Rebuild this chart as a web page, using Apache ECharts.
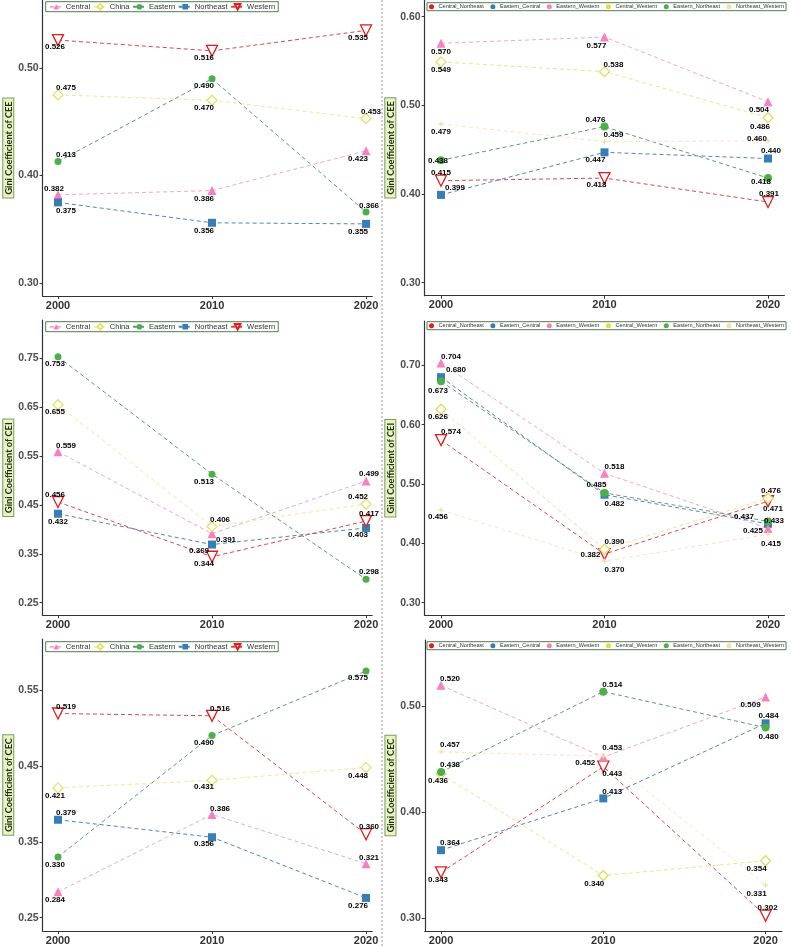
<!DOCTYPE html>
<html><head><meta charset="utf-8">
<script src="https://cdn.jsdelivr.net/npm/echarts@6/dist/echarts.min.js"></script>
<style>html,body{margin:0;padding:0;background:#fff}#c{width:791px;height:946px}</style>
</head><body><div id="c"></div>
<script>
// ---------------- data ----------------
const years = [2000, 2010, 2020];
const regionNames = ['Central', 'China', 'Eastern', 'Northeast', 'Western'];
const pairNames = ['Central_Northeast', 'Eastern_Central', 'Eastern_Western', 'Central_Western', 'Eastern_Northeast', 'Northeast_Western'];

// CEE
const ceeRegionValues = [
  [0.382, 0.386, 0.423], [0.475, 0.470, 0.453], [0.413, 0.490, 0.366], [0.375, 0.356, 0.355], [0.526, 0.516, 0.535]
];
const ceePairValues = [
  [0.415, 0.418, 0.391], [0.399, 0.447, 0.440], [0.570, 0.577, 0.504], [0.549, 0.538, 0.486], [0.438, 0.476, 0.418], [0.479, 0.459, 0.460]
];
// CEI
const ceiRegionValues = [
  [0.559, 0.391, 0.499], [0.655, 0.406, 0.452], [0.753, 0.513, 0.298], [0.432, 0.369, 0.403], [0.456, 0.344, 0.417]
];
const ceiPairValues = [
  [0.574, 0.382, 0.471], [0.680, 0.482, 0.433], [0.704, 0.518, 0.425], [0.626, 0.390, 0.476], [0.673, 0.485, 0.437], [0.456, 0.370, 0.415]
];
// CEC
const cecRegionValues = [
  [0.284, 0.386, 0.321], [0.421, 0.431, 0.448], [0.330, 0.490, 0.575], [0.379, 0.356, 0.276], [0.519, 0.516, 0.360]
];
const cecPairValues = [
  [0.343, 0.443, 0.302], [0.364, 0.413, 0.484], [0.520, 0.452, 0.509], [0.436, 0.340, 0.354], [0.438, 0.514, 0.480], [0.457, 0.453, 0.331]
];

// tick labels
const xTicks = [2000, 2010, 2020];
const ceeRegionTicks = [0.30, 0.40, 0.50];
const ceePairTicks = [0.30, 0.40, 0.50, 0.60];
const ceiRegionTicks = [0.25, 0.35, 0.45, 0.55, 0.65, 0.75];
const ceiPairTicks = [0.30, 0.40, 0.50, 0.60, 0.70];
const cecRegionTicks = [0.25, 0.35, 0.45, 0.55];
const cecPairTicks = [0.30, 0.40, 0.50];

// ---------------- label placement (layout, px offsets) ----------------
const ceeRegionLabelPos = [
  [[-4,-6],[-8,8],[-8,8]], [[8,-7],[-8,8],[5,-7]], [[8,-7],[-8,7],[3,-6]], [[8,8],[-8,8],[-8,8]], [[-3,7],[-8,7],[-8,7]]
];
const ceePairLabelPos = [
  [[0,-8],[-8,7],[1,-8]], [[14,-7],[-9,7],[3,-8]], [[0,9],[-8,9],[-9,8]], [[0,8],[9,-7],[-8,9]], [[-3,0],[-9,-7],[-7,4]], [[0,8],[9,-7],[-11,-2]]
];
const ceiRegionLabelPos = [
  [[8,-6],[14,6],[3,-7]], [[-3,7],[8,-7],[-8,-7]], [[-3,7],[-8,8],[3,-7]], [[0,8],[-13,6],[-8,7]], [[-3,-7],[-8,7],[3,-7]]
];
const ceiPairLabelPos = [
  [[10,-8],[-14,1],[5,8]], [[15,-7],[10,9],[6,-3]], [[10,-6],[10,-7],[-15,2]], [[-3,8],[10,-7],[3,-7]], [[-3,9],[-8,-8],[-24,-5]], [[-3,7],[10,9],[3,9]]
];
const cecRegionLabelPos = [
  [[-3,8],[8,-6],[3,-6]], [[-3,8],[-8,7],[-8,8]], [[-3,8],[-8,7],[-8,7]], [[8,-7],[-8,7],[-8,8]], [[8,-7],[8,-7],[3,-7]]
];
const cecPairLabelPos = [
  [[-3,7],[9,7],[2,-8]], [[9,-7],[9,-7],[3,-8]], [[9,-7],[-18,6],[-15,8]], [[-3,7],[-9,8],[-9,8]], [[9,-7],[9,-7],[3,9]], [[9,-7],[9,-8],[-9,9]]
];

// ---------------- styles ----------------
const STAR = 'path://M0,-10 L2.5,-2.5 L10,0 L2.5,2.5 L0,10 L-2.5,2.5 L-10,0 L-2.5,-2.5 Z';
const regionStyles = {
  Central:   {symbol:'triangle', size:9, fill:'#F781BF', stroke:'#F781BF', line:'#f3a6cd'},
  China:     {symbol:'diamond', size:10, fill:'#ffffff', stroke:'#e3e36a', line:'#ecec98', hollow:true},
  Eastern:   {symbol:'circle', size:7, fill:'#4DAF4A', stroke:'#4DAF4A', line:'#5f9a78'},
  Northeast: {symbol:'rect', size:8, fill:'#377EB8', stroke:'#377EB8', line:'#5287ad'},
  Western:   {symbol:'triangle', size:11, fill:'#ffffff', stroke:'#E41A1C', line:'#d9474f', hollow:true, rotate:180}
};
const pairStyles = {
  Central_Northeast: {symbol:'triangle', size:11, fill:'#ffffff', stroke:'#E41A1C', line:'#d9474f', hollow:true, rotate:180, legend:'#E41A1C'},
  Eastern_Central:   {symbol:'rect', size:8, fill:'#377EB8', stroke:'#377EB8', line:'#5287ad', legend:'#377EB8'},
  Eastern_Western:   {symbol:'triangle', size:9, fill:'#F781BF', stroke:'#F781BF', line:'#f3a6cd', legend:'#F781BF'},
  Central_Western:   {symbol:'diamond', size:10, fill:'#ffffff', stroke:'#dede62', line:'#e8e88c', hollow:true, legend:'#dede40'},
  Eastern_Northeast: {symbol:'circle', size:8, fill:'#4DAF4A', stroke:'#4DAF4A', line:'#5f9a78', legend:'#4DAF4A'},
  Northeast_Western: {symbol:STAR, size:7, fill:'#f3e2a6', stroke:'#f3e2a6', line:'#f5e9bf', legend:'#f3e2a6'}
};

// ---------------- panel layout ----------------
const panels = [
  {names:regionNames, values:ceeRegionValues, labels:ceeRegionLabelPos, ticks:ceeRegionTicks, title:'Gini Coefficient of CEE', styles:regionStyles,
   grid:{left:42.6, top:0, width:329.6, height:296}, x:[1999,2020.4], y:[0.2879,0.5633], legend:{left:45.7, top:1.7}},
  {names:pairNames, values:ceePairValues, labels:ceePairLabelPos, ticks:ceePairTicks, title:'Gini Coefficient of CEE', styles:pairStyles,
   grid:{left:424.65, top:0, width:359.7, height:295.7}, x:[1999,2021], y:[0.2853,0.6188], legend:{left:427, top:2.7}},
  {names:regionNames, values:ceiRegionValues, labels:ceiRegionLabelPos, ticks:ceiRegionTicks, title:'Gini Coefficient of CEI', styles:regionStyles,
   grid:{left:42.6, top:320, width:329.6, height:295.3}, x:[1999,2020.4], y:[0.2242,0.8284], legend:{left:45.7, top:321.7}},
  {names:pairNames, values:ceiPairValues, labels:ceiPairLabelPos, ticks:ceiPairTicks, title:'Gini Coefficient of CEI', styles:pairStyles,
   grid:{left:424.65, top:321, width:359.7, height:294.3}, x:[1999,2021], y:[0.2788,0.7746], legend:{left:427, top:321.7}},
  {names:regionNames, values:cecRegionValues, labels:cecRegionLabelPos, ticks:cecRegionTicks, title:'Gini Coefficient of CEC', styles:regionStyles,
   grid:{left:42.6, top:639, width:329.6, height:293.7}, x:[1999,2020.4], y:[0.2324,0.6172], legend:{left:45.7, top:641.7}},
  {names:pairNames, values:cecPairValues, labels:cecPairLabelPos, ticks:cecPairTicks, title:'Gini Coefficient of CEC', styles:pairStyles,
   grid:{left:424.8, top:640, width:357, height:292}, x:[1999,2021], y:[0.2875,0.5629], legend:{left:427, top:641.7}}
];

const grids = [], xAxes = [], yAxes = [], series = [], legends = [];
panels.forEach((p, i) => {
  const isPair = p.names === pairNames;
  grids.push(Object.assign({containLabel:false}, p.grid));
  xAxes.push({
    type:'value', gridIndex:i, min:p.x[0], max:p.x[1],
    axisLine:{show:true, onZero:false, lineStyle:{color:'#333', width:1.2}},
    axisTick:{show:true, length:3, customValues:xTicks, lineStyle:{color:'#333'}},
    axisLabel:{customValues:xTicks, margin:4, color:'#333', fontWeight:'bold', fontSize:11, fontFamily:'Liberation Sans, Arial',
      formatter:v => String(Math.round(v))},
    splitLine:{show:false}
  });
  yAxes.push({
    type:'value', gridIndex:i, min:p.y[0], max:p.y[1],
    axisLine:{show:true, onZero:false, lineStyle:{color:'#333', width:1.2}},
    axisTick:{show:true, length:3, customValues:p.ticks, lineStyle:{color:'#333'}},
    axisLabel:{customValues:p.ticks, margin:4, color:'#4d4d4d', fontWeight:'bold', fontSize:10.5, fontFamily:'Liberation Sans, Arial',
      formatter:v => v.toFixed(2)},
    splitLine:{show:false},
    name:p.title, nameLocation:'middle', nameRotate:90, nameGap:29,
    nameTextStyle:{fontFamily:'Lato, Open Sans', fontWeight:'bold', fontSize:9.2, color:'#22301a',
      backgroundColor:'#e9f3c3', borderColor:'#7c9a5a', borderWidth:1, padding:[1,3,0,3]}
  });
  p.names.forEach((name, k) => {
    const st = p.styles[name];
    series.push({
      type:'line', name, xAxisIndex:i, yAxisIndex:i,
      symbol:st.symbol, symbolSize:st.size, symbolRotate:st.rotate || 0,
      itemStyle:{color:st.fill, borderColor:st.stroke, borderWidth:st.hollow ? 1.3 : 0},
      lineStyle:{color:st.line, width:1, type:[4,3]},
      emphasis:{disabled:true},
      z:2,
      label:{show:true, position:'inside', color:'#000', fontWeight:'bold', fontSize:8, fontFamily:'Liberation Sans, Arial',
        formatter:prm => prm.value[1].toFixed(3)},
      data:years.map((yr, j) => ({value:[yr, p.values[k][j]], label:{offset:p.labels[k][j]}}))
    });
  });
  const legend = {
    left:p.legend.left, top:p.legend.top, orient:'horizontal',
    borderColor:'#4f7f4f', borderWidth:1, borderRadius:0, backgroundColor:'#fff',
    padding:isPair ? [1,2] : [1,3],
    itemWidth:isPair ? 8 : 13, itemHeight:isPair ? 5 : 7,
    itemGap:isPair ? 6.5 : 2.5,
    selectedMode:false,
    textStyle:{fontSize:isPair ? 5.6 : 7.6, color:'#333', fontFamily:'Liberation Sans, Arial', padding:[0,0,0,-2]},
    data:p.names.map(n => isPair ? {name:n, icon:'circle', itemStyle:{color:p.styles[n].legend, borderWidth:0}} : {name:n})
  };
  legends.push(legend);
});

const chart = echarts.init(document.getElementById('c'), null, {renderer:'canvas'});
chart.setOption({
  animation:false,
  backgroundColor:'#fff',
  grid:grids, xAxis:xAxes, yAxis:yAxes, series, legend:legends,
  graphic:[{type:'line', shape:{x1:382, y1:0, x2:382, y2:946}, style:{stroke:'#9a9a9a', lineWidth:1, lineDash:[2,2]}, z:0}]
});
</script>
</body></html>
